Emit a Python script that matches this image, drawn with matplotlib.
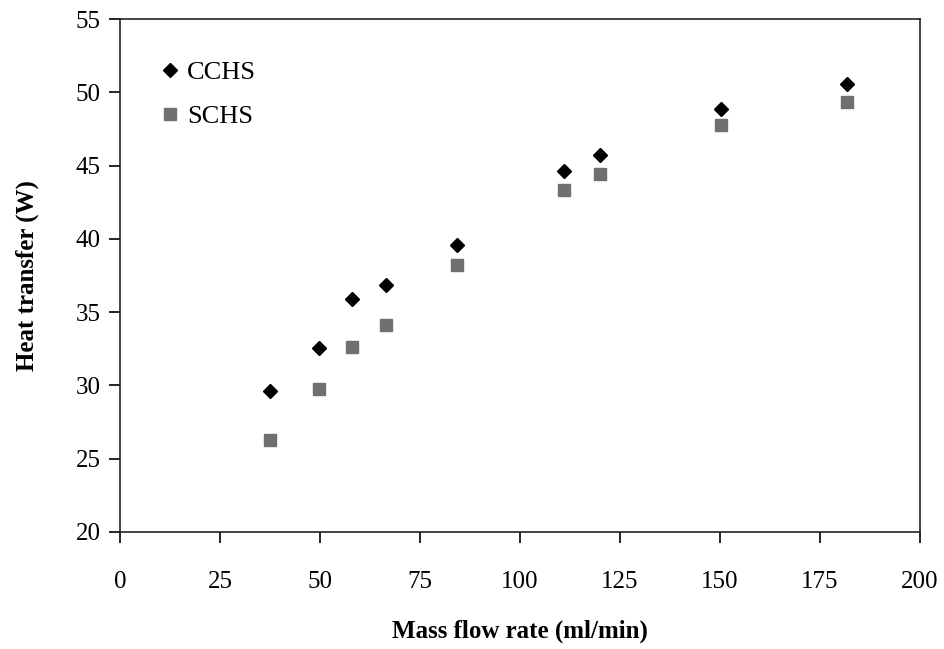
import matplotlib
matplotlib.use("Agg")
import matplotlib.pyplot as plt

flow_rate = [37.5, 49.7, 57.9, 66.6, 84.3, 111.0, 120.1, 150.2, 181.8]
cchs = [29.65, 32.55, 35.9, 36.85, 39.6, 44.6, 45.7, 48.85, 50.55]
schs = [26.3, 29.75, 32.65, 34.1, 38.25, 43.3, 44.4, 47.75, 49.35]

plt.rcParams['font.family'] = ['Liberation Serif', 'DejaVu Serif']

fig = plt.figure(figsize=(9.45, 6.49), dpi=100)
ax = fig.add_axes([120/945, 1 - 532/649, 800/945, 513/649])

ax.plot(flow_rate, cchs, linestyle='none', marker='D', markersize=7.5,
        color='black', label='CCHS')
ax.plot(flow_rate, schs, linestyle='none', marker='s', markersize=8,
        color='#707070', label='SCHS')

ax.set_xlim(0, 200)
ax.set_ylim(20, 55)
ax.set_xticks(range(0, 201, 25))
ax.set_yticks(range(20, 56, 5))
ax.tick_params(axis='both', direction='out', length=8, width=1.2,
               labelsize=18, colors='black')
ax.tick_params(axis='y', pad=6)
ax.tick_params(axis='x', pad=20)
for s in ax.spines.values():
    s.set_linewidth(1.2)
    s.set_color('#222222')

ax.set_xlabel('Mass flow rate (ml/min)', fontsize=18, fontweight='bold', labelpad=19)
ax.set_ylabel('Heat transfer (W)', fontsize=18, fontweight='bold', labelpad=26)

leg = ax.legend(loc='upper left', bbox_to_anchor=(0.033, 0.94), frameon=False,
                fontsize=19, handletextpad=0.15, labelspacing=0.8,
                handlelength=1.0, borderaxespad=0)

fig.savefig('out.png', dpi=100)
